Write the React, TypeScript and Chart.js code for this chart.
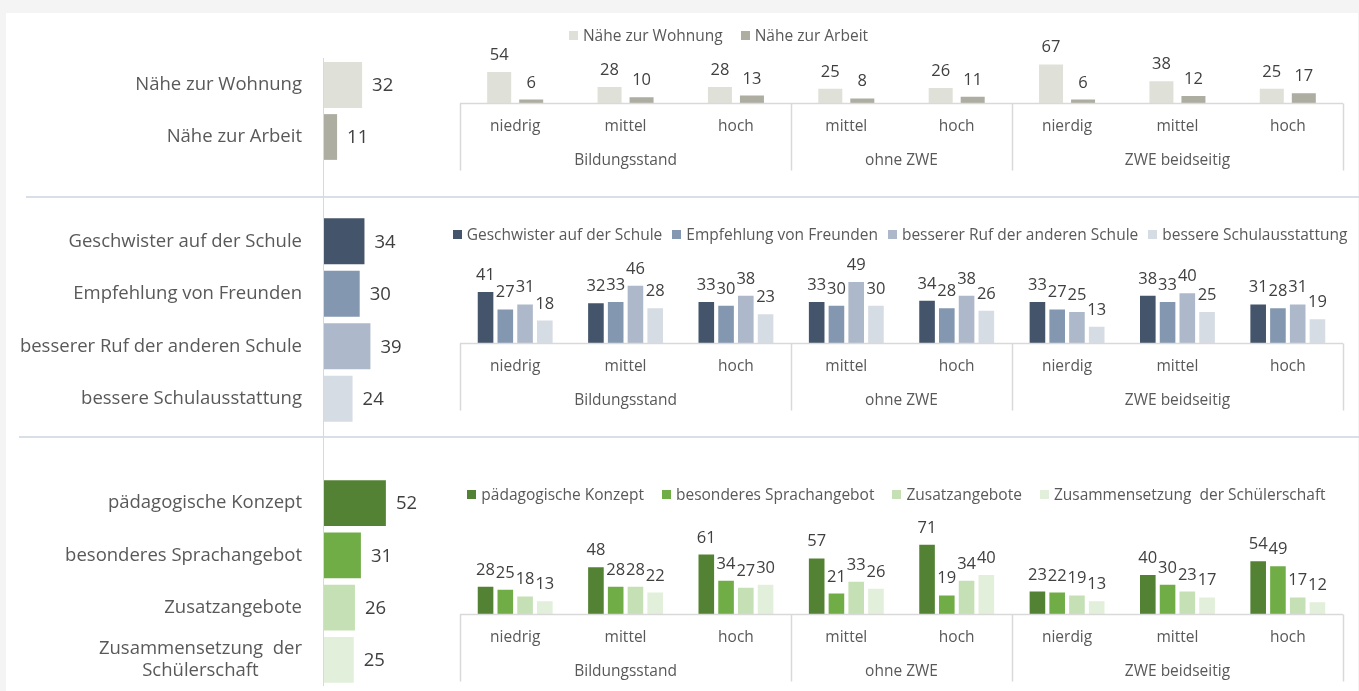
import React, { useEffect, useRef } from "react";
import { Chart, registerables } from "chart.js";

Chart.register(...registerables);

const FONT = '"Open Sans", "Noto Sans", sans-serif';
const TEXT = "#595959";
const VALUE_TEXT = "#404040";
const AXIS = "#d9d9d9";

// ---------- shared category axis ----------
const groupLabels = ["Bildungsstand", "ohne ZWE", "ZWE beidseitig"];
const groupSizes = [3, 2, 3];
const subLabels = ["niedrig", "mittel", "hoch", "mittel", "hoch", "nierdig", "mittel", "hoch"];

// ---------- section 1: Nähe ----------
const proxLabels = ["Nähe zur Wohnung", "Nähe zur Arbeit"];
const proxTotals = [32, 11];
const proxColors = ["#dfe0d8", "#aeada1"];
const wohnung = [54, 28, 28, 25, 26, 67, 38, 25];
const arbeit = [6, 10, 13, 8, 11, 6, 12, 17];

// ---------- section 2: Schule ----------
const schoolLabels = [
  "Geschwister auf der Schule",
  "Empfehlung von Freunden",
  "besserer Ruf der anderen Schule",
  "bessere Schulausstattung",
];
const schoolTotals = [34, 30, 39, 24];
const schoolColors = ["#44546a", "#8497b0", "#adb9ca", "#d6dce4"];
const geschwister = [41, 32, 33, 33, 34, 33, 38, 31];
const empfehlung = [27, 33, 30, 30, 28, 27, 33, 28];
const ruf = [31, 46, 38, 49, 38, 25, 40, 31];
const ausstattung = [18, 28, 23, 30, 26, 13, 25, 19];

// ---------- section 3: Angebot ----------
const offerLabels = [
  "pädagogische Konzept",
  "besonderes Sprachangebot",
  "Zusatzangebote",
  "Zusammensetzung  der Schülerschaft",
];
const offerTickLabels: (string | string[])[] = [
  "pädagogische Konzept",
  "besonderes Sprachangebot",
  "Zusatzangebote",
  ["Zusammensetzung  der", "Schülerschaft"],
];
const offerTotals = [52, 31, 26, 25];
const offerColors = ["#548235", "#70ad47", "#c5e0b4", "#e2efda"];
const konzept = [28, 48, 61, 57, 71, 23, 40, 54];
const sprache = [25, 28, 34, 21, 19, 22, 30, 49];
const zusatz = [18, 28, 27, 33, 34, 19, 23, 17];
const zusammensetzung = [13, 22, 30, 26, 40, 13, 17, 12];

// ---------- plugins ----------
function leftLabelsPlugin(tickLabels: (string | string[])[]) {
  return {
    id: "leftLabels",
    afterDatasetsDraw(chart: any) {
      const ctx = chart.ctx;
      const meta = chart.getDatasetMeta(0);
      const values = chart.data.datasets[0].data;
      ctx.save();
      ctx.font = `18.5px ${FONT}`;
      ctx.textBaseline = "middle";
      meta.data.forEach((el: any, i: number) => {
        ctx.fillStyle = VALUE_TEXT;
        ctx.textAlign = "left";
        ctx.fillText(String(values[i]), el.x + 10, el.y + 1);
        ctx.fillStyle = TEXT;
        const lab = tickLabels[i];
        const lines = Array.isArray(lab) ? lab : [lab];
        const w = Math.max(...lines.map((l) => ctx.measureText(l).width));
        const right = 302;
        const lh = 22.4;
        lines.forEach((l, k) => {
          const y = el.y + (k - (lines.length - 1) / 2) * lh;
          if (lines.length > 1) {
            ctx.textAlign = "center";
            ctx.fillText(l, right - w / 2, y);
          } else {
            ctx.textAlign = "right";
            ctx.fillText(l, right, y);
          }
        });
      });
      ctx.restore();
    },
  };
}

const valueLabelsPlugin = {
  id: "valueLabels",
  afterDatasetsDraw(chart: any) {
    const ctx = chart.ctx;
    ctx.save();
    ctx.font = `16.5px ${FONT}`;
    ctx.fillStyle = VALUE_TEXT;
    ctx.textAlign = "center";
    ctx.textBaseline = "alphabetic";
    chart.data.datasets.forEach((ds: any, di: number) => {
      const meta = chart.getDatasetMeta(di);
      meta.data.forEach((el: any, i: number) => {
        ctx.fillText(String(ds.data[i]), el.x, el.y - 12);
      });
    });
    ctx.restore();
  },
};

const multiAxisPlugin = {
  id: "multiAxis",
  afterDraw(chart: any) {
    const ctx = chart.ctx;
    const xs = chart.scales.x;
    const area = chart.chartArea;
    const base = Math.round(area.bottom) + 0.5;
    const n = subLabels.length;
    const w = (area.right - area.left) / n;
    const edge = (i: number) => xs.getPixelForValue(i) - w / 2;
    ctx.save();
    ctx.strokeStyle = AXIS;
    ctx.lineWidth = 1.5;
    ctx.beginPath();
    ctx.moveTo(area.left, base);
    ctx.lineTo(area.right, base);
    let idx = 0;
    const bounds = [0];
    groupSizes.forEach((s) => {
      idx += s;
      bounds.push(idx);
    });
    bounds.forEach((b) => {
      const x = Math.round(b === n ? area.right : edge(b)) + 0.5;
      ctx.moveTo(x, base);
      ctx.lineTo(x, base + 67);
    });
    ctx.stroke();
    ctx.fillStyle = TEXT;
    ctx.font = `15.5px ${FONT}`;
    ctx.textAlign = "center";
    ctx.textBaseline = "middle";
    subLabels.forEach((l, i) => {
      ctx.fillText(l, xs.getPixelForValue(i), base + 23.5);
    });
    groupLabels.forEach((g, gi) => {
      const a = bounds[gi];
      const b = bounds[gi + 1];
      const x0 = edge(a);
      const x1 = b === n ? area.right : edge(b);
      ctx.fillText(g, (x0 + x1) / 2, base + 57);
    });
    ctx.restore();
  },
};

function legendPlugin(centerX: number, centerY: number, gapItem: number) {
  return {
    id: "customLegend",
    afterDraw(chart: any) {
      const ctx = chart.ctx;
      ctx.save();
      ctx.font = `15.5px ${FONT}`;
      ctx.textBaseline = "middle";
      ctx.textAlign = "left";
      const box = 9;
      const gapText = 5;
      const items = chart.data.datasets.map((d: any) => ({
        label: d.label as string,
        color: d.backgroundColor as string,
        w: ctx.measureText(d.label).width,
      }));
      const total =
        items.reduce((s: number, it: any) => s + box + gapText + it.w, 0) +
        gapItem * (items.length - 1);
      let x = centerX - total / 2;
      items.forEach((it: any) => {
        ctx.fillStyle = it.color;
        ctx.fillRect(Math.round(x), Math.round(centerY - box / 2), box, box);
        ctx.fillStyle = TEXT;
        ctx.fillText(it.label, x + box + gapText, centerY + 1);
        x += box + gapText + it.w + gapItem;
      });
      ctx.restore();
    },
  };
}

// ---------- config builders ----------
function leftConfig(
  labels: string[],
  tickLabels: (string | string[])[],
  values: number[],
  colors: string[],
  padTop: number,
  padBottom: number
) {
  return {
    type: "bar",
    data: {
      labels,
      datasets: [
        {
          data: values,
          backgroundColor: colors,
          barPercentage: 0.88,
          categoryPercentage: 1,
        },
      ],
    },
    options: {
      indexAxis: "y",
      responsive: false,
      animation: false,
      layout: { padding: { left: 324, right: 17, top: padTop, bottom: padBottom } },
      scales: {
        x: { display: false, min: 0, max: 100 },
        y: { display: false },
      },
      plugins: { legend: { display: false }, tooltip: { enabled: false } },
    },
    plugins: [leftLabelsPlugin(tickLabels)],
  };
}

function rightConfig(
  labels: string[],
  series: number[][],
  colors: string[],
  padTop: number,
  padBottom: number,
  cp: number,
  bp: number,
  legendX: number,
  legendY: number,
  legendGap: number
) {
  return {
    type: "bar",
    data: {
      labels: subLabels,
      datasets: series.map((s, i) => ({
        label: labels[i],
        data: s,
        backgroundColor: colors[i],
        categoryPercentage: cp,
        barPercentage: bp,
      })),
    },
    options: {
      responsive: false,
      animation: false,
      layout: { padding: { left: 20, right: 16, top: padTop, bottom: padBottom } },
      scales: {
        x: { display: false },
        y: { display: false, min: 0, max: 100 },
      },
      plugins: { legend: { display: false }, tooltip: { enabled: false } },
    },
    plugins: [valueLabelsPlugin, multiAxisPlugin, legendPlugin(legendX, legendY, legendGap)],
  };
}

// ---------- components ----------
function ChartCanvas(props: {
  left: number;
  top: number;
  width: number;
  height: number;
  make: () => any;
}) {
  const ref = useRef<HTMLCanvasElement>(null);
  useEffect(() => {
    const chart = new Chart(ref.current as HTMLCanvasElement, props.make());
    return () => chart.destroy();
  }, []);
  return (
    <canvas
      ref={ref}
      width={props.width}
      height={props.height}
      style={{
        position: "absolute",
        left: props.left,
        top: props.top,
        width: props.width,
        height: props.height,
      }}
    />
  );
}

export default function App() {
  useEffect(() => {
    document.body.style.margin = "0";
  }, []);
  return (
    <div
      style={{
        position: "relative",
        width: 1359,
        height: 691,
        background: "#f4f4f4",
        overflow: "hidden",
        fontFamily: FONT,
      }}
    >
      <div
        style={{
          position: "absolute",
          left: 6,
          top: 13,
          width: 1352,
          height: 678,
          background: "#ffffff",
        }}
      />
      <div style={{ position: "absolute", left: 26, top: 196, width: 1333, height: 1.5, background: "#d9dee7" }} />
      <div style={{ position: "absolute", left: 19, top: 436, width: 1340, height: 1.5, background: "#d9dee7" }} />
      <div style={{ position: "absolute", left: 322.5, top: 58, width: 1.5, height: 628, background: AXIS }} />

      <ChartCanvas
        left={0}
        top={13}
        width={460}
        height={183}
        make={() => leftConfig(proxLabels, proxLabels, proxTotals, proxColors, 46, 33)}
      />
      <ChartCanvas
        left={0}
        top={196}
        width={460}
        height={240}
        make={() => leftConfig(schoolLabels, schoolLabels, schoolTotals, schoolColors, 19, 11)}
      />
      <ChartCanvas
        left={0}
        top={436}
        width={460}
        height={255}
        make={() => leftConfig(offerLabels, offerTickLabels, offerTotals, offerColors, 41, 5)}
      />

      <ChartCanvas
        left={440}
        top={13}
        width={919}
        height={183}
        make={() =>
          rightConfig(proxLabels, [wohnung, arbeit], proxColors, 32.5, 93, 0.58, 0.75, 278.5, 22.7, 18)
        }
      />
      <ChartCanvas
        left={440}
        top={196}
        width={919}
        height={240}
        make={() =>
          rightConfig(
            schoolLabels,
            [geschwister, empfehlung, ruf, ausstattung],
            schoolColors,
            22.5,
            93,
            0.716,
            0.79,
            460,
            38.7,
            10
          )
        }
      />
      <ChartCanvas
        left={440}
        top={436}
        width={919}
        height={255}
        make={() =>
          rightConfig(
            offerLabels,
            [konzept, sprache, zusatz, zusammensetzung],
            offerColors,
            80.5,
            77,
            0.716,
            0.79,
            456.5,
            58.7,
            18
          )
        }
      />
    </div>
  );
}
